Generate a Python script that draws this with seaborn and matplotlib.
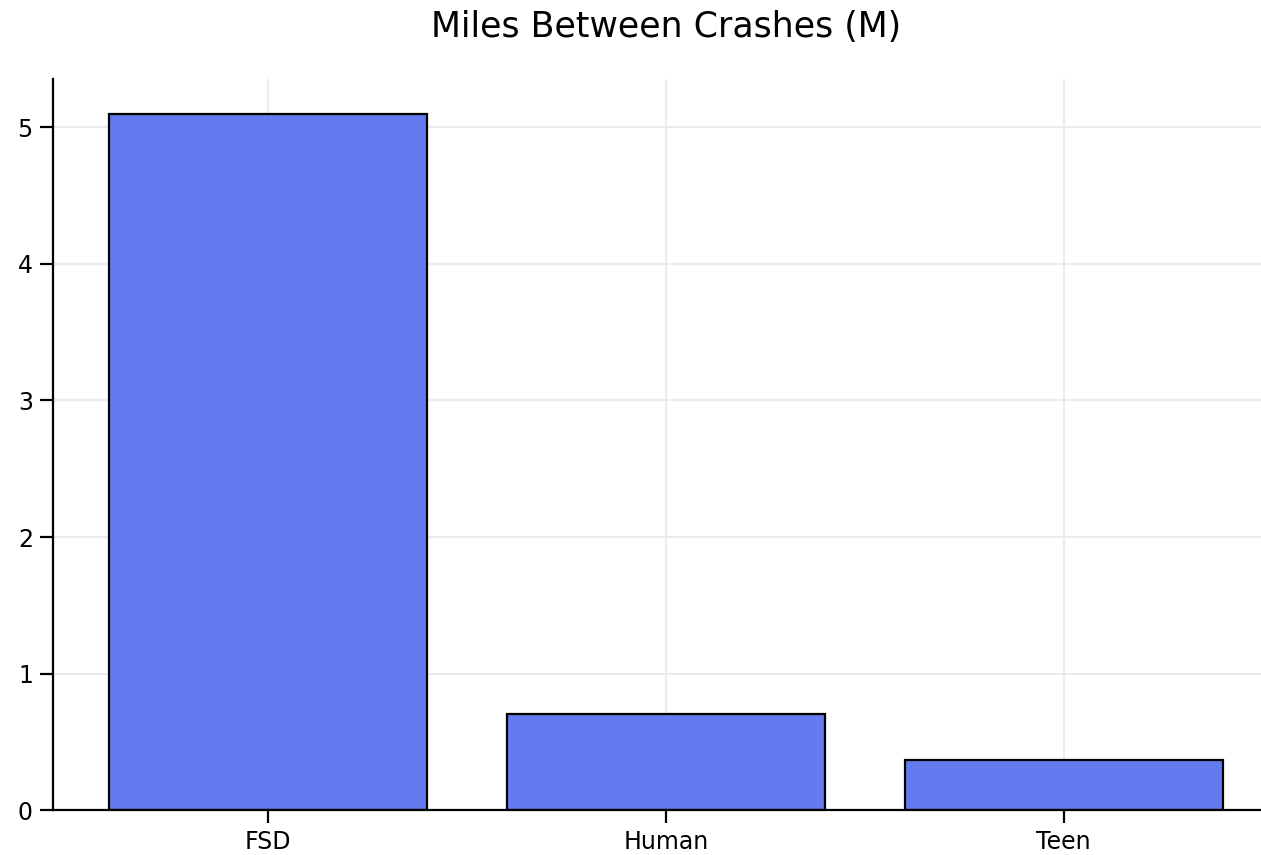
import matplotlib
matplotlib.use("Agg")
import matplotlib.pyplot as plt
import pandas as pd
import seaborn as sns

categories = ["FSD", "Human", "Teen"]
miles_between_crashes = [5.1, 0.7, 0.37]

df = pd.DataFrame({"driver": categories, "miles": miles_between_crashes})

sns.set_style("ticks")
plt.rcParams["font.family"] = ["DejaVu Sans"]
plt.rcParams["text.color"] = "black"
plt.rcParams["xtick.color"] = "black"
plt.rcParams["ytick.color"] = "black"
plt.rcParams["axes.edgecolor"] = "black"

fig = plt.figure(figsize=(12.61, 8.55), dpi=100)
ax = fig.add_axes([0.042, 0.0526, 0.972, 0.855])

sns.barplot(data=df, x="driver", y="miles", color="#637bef", saturation=1,
            edgecolor="black", linewidth=1.6, width=0.8, ax=ax)

ax.set_xlim(-0.54, 2.54)
ax.set_ylim(0, 5.355)
ax.grid(True, color="#ebebeb", linewidth=1.5)
ax.set_axisbelow(True)
sns.despine(ax=ax)
for s in ["left", "bottom"]:
    ax.spines[s].set_linewidth(1.6)
ax.tick_params(axis="both", labelsize=17, length=9.5, width=1.6, pad=5)
ax.set_xlabel("")
ax.set_ylabel("")
ax.set_yticks([0, 1, 2, 3, 4, 5])
ax.set_title("Miles Between Crashes (M)", fontsize=25, pad=30, color="black")

fig.savefig("out.png", dpi=100)
